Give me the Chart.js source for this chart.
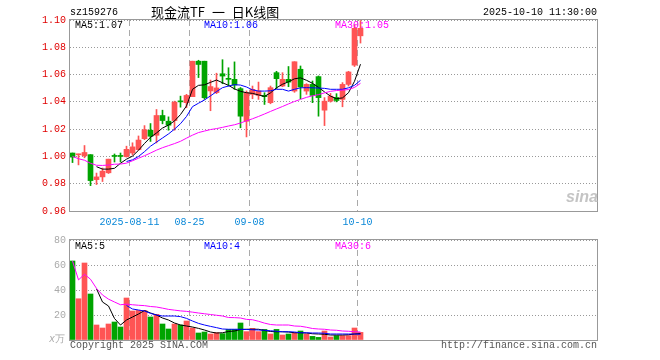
<!DOCTYPE html>
<html>
<head>
<meta charset="utf-8">
<script src="https://cdn.jsdelivr.net/npm/chart.js@4.4.1/dist/chart.umd.min.js"></script>
<style>
  body { margin: 0; background: #fff; width: 660px; height: 360px; position: relative; overflow: hidden;
         font-family: "Liberation Mono", monospace; font-size: 10px; }
  canvas { position: absolute; left: 0; }
  .t { position: absolute; white-space: nowrap; line-height: 1; }
</style>
</head>
<body>
<canvas id="kline" width="660" height="230" style="top:0"></canvas>
<canvas id="vol" width="660" height="130" style="top:230px"></canvas>

<div class="t" style="left:70px;top:8px">sz159276</div>
<div class="t" style="left:151px;top:5px;font-family:'Noto Sans CJK SC';font-size:13px;word-spacing:4px">现金流TF 一 日K线图</div>
<div class="t" style="right:63px;top:8px">2025-10-10 11:30:00</div>
<div class="t" style="left:75px;top:21px;color:#000">MA5:1.07</div>
<div class="t" style="left:204px;top:21px;color:#00f">MA10:1.06</div>
<div class="t" style="left:335px;top:21px;color:#f0f">MA30:1.05</div>
<div class="t" style="left:566px;top:189px;font-family:'Liberation Sans';font-weight:bold;font-style:italic;font-size:16px;color:#c4c4c4">sina</div>

<div class="t" style="left:75px;top:242px;color:#000">MA5:5</div>
<div class="t" style="left:204px;top:242px;color:#00f">MA10:4</div>
<div class="t" style="left:335px;top:242px;color:#f0f">MA30:6</div>
<div class="t" style="left:49px;top:335px;color:#aaa;font-size:10px"><i>x</i>万</div>
<div class="t" style="left:70px;top:341px;color:#555">Copyright 2025 SINA.COM</div>
<div class="t" style="right:63px;top:341px;color:#555">http://finance.sina.com.cn</div>

<script>
// daily candles, 2025-07-28 .. 2025-10-10
const opens = [1.0025, 1.0012, 1.0004, 1.0013, 0.9830, 0.9850, 0.9880, 1.0002, 1.0002, 0.9998,
  1.0025, 1.0050, 1.0130, 1.0192, 1.0155, 1.0300, 1.0258, 1.0263, 1.0402, 1.0394,
  1.0438, 1.0698, 1.0698, 1.0480, 1.0468, 1.0606, 1.0567, 1.0565, 1.0497, 1.0258,
  1.0455, 1.0447, 1.0447, 1.0394, 1.0614, 1.0516, 1.0565, 1.0479, 1.0639, 1.0479,
  1.0528, 1.0585, 1.0339, 1.0405, 1.0432, 1.0418, 1.0528, 1.0669, 1.0884];
const highs = [1.0025, 1.0017, 1.0080, 1.0013, 0.9878, 0.9915, 0.9980, 1.0018, 1.0025, 1.0075,
  1.0100, 1.0150, 1.0226, 1.0241, 1.0344, 1.0339, 1.0290, 1.0405, 1.0442, 1.0455,
  1.0698, 1.0705, 1.0698, 1.0560, 1.0610, 1.0709, 1.0650, 1.0693, 1.0505, 1.0480,
  1.0516, 1.0545, 1.0467, 1.0516, 1.0624, 1.0614, 1.0659, 1.0694, 1.0663, 1.0533,
  1.0553, 1.0590, 1.0431, 1.0462, 1.0460, 1.0541, 1.0624, 1.0966, 1.0996];
const lows = [0.9955, 0.9938, 0.9990, 0.9786, 0.9794, 0.9816, 0.9875, 0.9959, 0.9960, 0.9995,
  1.0010, 1.0045, 1.0123, 1.0110, 1.0099, 1.0239, 1.0192, 1.0192, 1.0361, 1.0357,
  1.0438, 1.0578, 1.0418, 1.0335, 1.0460, 1.0533, 1.0516, 1.0492, 1.0210, 1.0143,
  1.0423, 1.0418, 1.0381, 1.0386, 1.0497, 1.0511, 1.0511, 1.0470, 1.0423, 1.0455,
  1.0394, 1.0295, 1.0226, 1.0398, 1.0400, 1.0364, 1.0516, 1.0659, 1.0831];
const closes = [0.9995, 1.0015, 1.0029, 0.9823, 0.9850, 0.9892, 0.9980, 1.0000, 1.0000, 1.0052,
  1.0070, 1.0120, 1.0196, 1.0148, 1.0300, 1.0263, 1.0229, 1.0398, 1.0400, 1.0447,
  1.0698, 1.0674, 1.0430, 1.0512, 1.0502, 1.0589, 1.0565, 1.0523, 1.0295, 1.0467,
  1.0492, 1.0480, 1.0438, 1.0504, 1.0570, 1.0565, 1.0545, 1.0694, 1.0509, 1.0528,
  1.0447, 1.0431, 1.0405, 1.0442, 1.0410, 1.0528, 1.0619, 1.0939, 1.0939];

// moving averages
const ma5 = [null, null, null, null, 0.9925, 0.9907, 0.9907, 0.9913, 0.9950, 0.9980,
  1.0002, 1.0045, 1.0095, 1.0140, 1.0172, 1.0208, 1.0230, 1.0260, 1.0307, 1.0370,
  1.0492, 1.0521, 1.0525, 1.0543, 1.0560, 1.0540, 1.0521, 1.0495, 1.0477, 1.0467,
  1.0462, 1.0451, 1.0440, 1.0466, 1.0503, 1.0529, 1.0547, 1.0569, 1.0576, 1.0558,
  1.0536, 1.0506, 1.0473, 1.0442, 1.0423, 1.0429, 1.0467, 1.0551, 1.0676];
const ma10 = [null, null, null, null, null, null, null, null, null, 0.9963,
  0.9975, 1.0000, 1.0035, 1.0075, 1.0105, 1.0135, 1.0165, 1.0200, 1.0240, 1.0293,
  1.0365, 1.0390, 1.0414, 1.0444, 1.0475, 1.0504, 1.0516, 1.0526, 1.0523, 1.0509,
  1.0488, 1.0479, 1.0479, 1.0481, 1.0492, 1.0492, 1.0479, 1.0492, 1.0503, 1.0504,
  1.0503, 1.0501, 1.0499, 1.0492, 1.0492, 1.0492, 1.0503, 1.0521, 1.0558];
const ma30 = [1.0000, 0.9983, 0.9972, 0.9950, 0.9935, 0.9934, 0.9937, 0.9943, 0.9944, 0.9951,
  0.9968, 0.9987, 1.0005, 1.0025, 1.0046, 1.0064, 1.0079, 1.0094, 1.0111, 1.0134,
  1.0156, 1.0175, 1.0186, 1.0197, 1.0204, 1.0213, 1.0223, 1.0232, 1.0245, 1.0261,
  1.0276, 1.0293, 1.0311, 1.0330, 1.0348, 1.0366, 1.0385, 1.0403, 1.0418, 1.0433,
  1.0444, 1.0453, 1.0466, 1.0477, 1.0483, 1.0486, 1.0490, 1.0506, 1.0536];

// volume, 万
const volumes = [63.2, 33.0, 61.6, 36.8, 12.0, 9.6, 12.8, 14.4, 10.4, 33.6,
  23.2, 23.7, 23.5, 18.4, 20.5, 12.8, 8.8, 12.8, 12.0, 15.2,
  9.6, 5.6, 6.4, 4.8, 5.9, 5.1, 8.5, 8.5, 13.6, 6.7,
  9.3, 6.7, 8.5, 4.8, 8.5, 4.0, 4.8, 5.9, 7.2, 4.8,
  2.9, 2.1, 7.2, 2.4, 3.5, 3.5, 3.5, 9.6, 6.1];
const volMa5 = [null, null, null, null, 41.0, 30.4, 27.2, 17.2, 12.0, 16.0,
  18.4, 20.8, 23.6, 21.6, 20.0, 17.6, 16.0, 13.6, 12.0, 11.2,
  10.4, 9.3, 8.0, 6.4, 5.6, 5.8, 6.8, 7.2, 8.4, 8.6,
  8.6, 8.6, 7.6, 6.8, 6.6, 6.6, 6.4, 5.8, 5.8, 5.6,
  5.0, 4.8, 4.6, 4.0, 4.0, 4.0, 4.2, 4.8, 5.2];
const volMa10 = [null, null, null, null, null, null, null, null, null, 27.6,
  24.8, 24.0, 23.2, 21.3, 20.0, 19.2, 19.2, 19.2, 18.7, 17.3,
  15.2, 13.3, 12.0, 10.9, 9.9, 8.8, 8.6, 8.6, 8.6, 8.4,
  8.2, 8.0, 7.8, 7.4, 7.0, 6.6, 6.6, 6.4, 5.8, 5.8,
  5.6, 5.6, 5.4, 4.8, 4.8, 4.8, 4.8, 4.8, 4.6];
const volMa30 = [63.2, 48.1, 52.6, 48.6, 41.3, 36.0, 32.7, 30.4, 28.2, 28.7,
  28.2, 27.8, 27.5, 26.8, 26.4, 25.5, 24.5, 23.9, 23.3, 22.9,
  22.3, 21.6, 21.0, 20.4, 19.8, 19.2, 18.0, 17.9, 17.6, 16.5,
  16.2, 15.0, 13.5, 12.4, 12.0, 12.0, 12.0, 11.2, 11.0, 10.2,
  9.2, 8.8, 8.6, 8.0, 7.8, 7.2, 7.0, 6.6, 6.4];

// date ticks: candle index where a new label starts
const dateIdx = [10, 20, 30, 48];
const dateText = ['2025-08-11', '08-25', '09-08', '10-10'];

const priceTicks = [0.96, 0.98, 1.00, 1.02, 1.04, 1.06, 1.08, 1.10];
const volTicks = [0, 20, 40, 60, 80];

const RED = '#ff5454';
const GREEN = '#00a400';
const candleColors = closes.map((c, i) => c >= opens[i] ? RED : GREEN);

Chart.defaults.font.family = '"Liberation Mono", monospace';
Chart.defaults.font.size = 10;

// slots are 6px wide, 527px of plot
const X_MIN = -5 / 12;
const X_MAX = X_MIN + 527 / 6;

const boxPlugin = {
    id: 'box',
    afterDatasetsDraw(chart) {
        const { ctx, chartArea: a } = chart;
        ctx.save();
        ctx.strokeStyle = '#999';
        ctx.lineWidth = 1;
        ctx.strokeRect(Math.round(a.left) - 0.5, Math.round(a.top) - 0.5,
            Math.round(a.right - a.left) + 1, Math.round(a.bottom - a.top) + 1);
        ctx.restore();
    }
};

function xScale(showLabels) {
    return {
        type: 'linear',
        min: X_MIN,
        max: X_MAX,
        offset: false,
        afterBuildTicks: s => { s.ticks = dateIdx.map(i => ({ value: i - 0.5 })); },
        afterFit: s => { s.height = showLabels ? 19 : 0; },
        grid: { color: '#aaa', lineWidth: 1, drawTicks: false, offset: false },
        border: { display: false, dash: [6, 4] },
        ticks: {
            display: showLabels,
            padding: 5,
            color: '#0a88d8',
            maxRotation: 0,
            autoSkip: false,
            callback: (v) => dateText[dateIdx.indexOf(v + 0.5)]
        }
    };
}

function lineSet(values, color) {
    return {
        type: 'line',
        data: values.map((v, i) => ({ x: i, y: v })),
        borderColor: color,
        borderWidth: 1,
        pointRadius: 0,
        tension: 0
    };
}

const commonOpts = {
    responsive: false,
    animation: false,
    events: [],
    plugins: { legend: { display: false }, tooltip: { enabled: false } }
};

new Chart(document.getElementById('kline'), {
    type: 'bar',
    data: {
        datasets: [
            lineSet(ma30, '#ff00ff'),
            lineSet(ma10, '#0000ff'),
            lineSet(ma5, '#000000'),
            {
                data: opens.map((o, i) => ({ x: i, y: [o, closes[i]] })),
                backgroundColor: candleColors,
                barThickness: 5,
                minBarLength: 1,
                grouped: false
            },
            {
                data: lows.map((l, i) => ({ x: i, y: [l, highs[i]] })),
                backgroundColor: candleColors,
                barThickness: 1,
                grouped: false
            }
        ]
    },
    options: {
        ...commonOpts,
        layout: { padding: { top: 20, right: 63, bottom: 0, left: 0 } },
        scales: {
            x: xScale(true),
            y: {
                min: 0.96,
                max: 1.10,
                afterBuildTicks: s => { s.ticks = priceTicks.map(v => ({ value: v })); },
                afterFit: s => { s.width = 70; },
                grid: { color: '#999', drawTicks: false },
                border: { display: false, dash: [1, 2] },
                ticks: { color: '#e00000', padding: 4, callback: v => v.toFixed(2) }
            }
        }
    },
    plugins: [boxPlugin]
});

new Chart(document.getElementById('vol'), {
    type: 'bar',
    data: {
        datasets: [
            lineSet(volMa30, '#ff00ff'),
            lineSet(volMa10, '#0000ff'),
            lineSet(volMa5, '#000000'),
            {
                data: volumes.map((v, i) => ({ x: i, y: v })),
                backgroundColor: candleColors,
                barThickness: 5,
                grouped: false
            }
        ]
    },
    options: {
        ...commonOpts,
        layout: { padding: { top: 10, right: 63, bottom: 20, left: 0 } },
        scales: {
            x: xScale(false),
            y: {
                min: 0,
                max: 80,
                afterBuildTicks: s => { s.ticks = volTicks.map(v => ({ value: v })); },
                afterFit: s => { s.width = 70; },
                grid: { color: '#999', drawTicks: false },
                border: { display: false, dash: [1, 2] },
                ticks: { color: '#aaa', padding: 4, callback: v => v === 0 ? '' : v }
            }
        }
    },
    plugins: [boxPlugin]
});
</script>
</body>
</html>
